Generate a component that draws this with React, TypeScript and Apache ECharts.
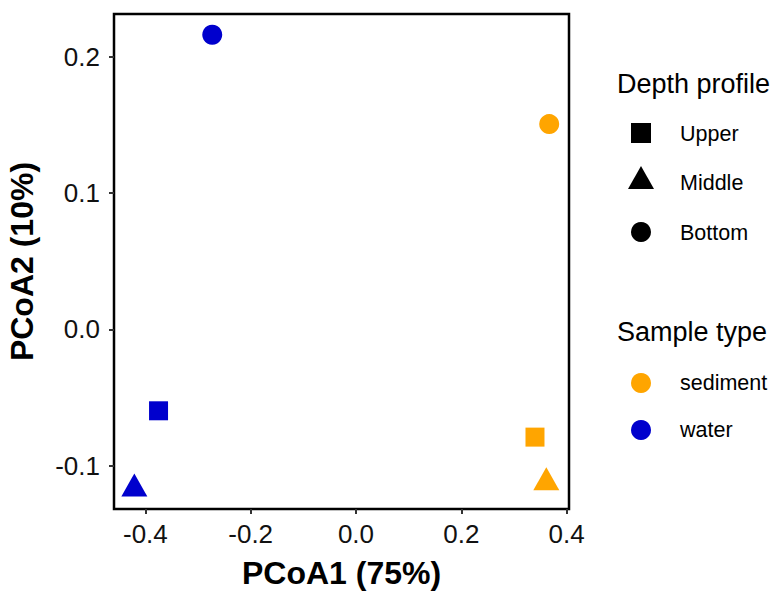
import React, { useEffect, useRef } from "react";
import * as echarts from "echarts";

const sampleTypes = ["water", "water", "water", "sediment", "sediment", "sediment"];
const depths = ["Upper", "Middle", "Bottom", "Upper", "Middle", "Bottom"];
const pcoa1 = [-0.375, -0.421, -0.273, 0.34, 0.3615, 0.367];
const pcoa2 = [-0.0597, -0.1141, 0.216, -0.079, -0.1096, 0.1505];

const xTicks = [-0.4, -0.2, 0.0, 0.2, 0.4];
const yTicks = [-0.1, 0.0, 0.1, 0.2];

const depthLevels = ["Upper", "Middle", "Bottom"];
const typeLevels = ["sediment", "water"];
const typeColors: Record<string, string> = { sediment: "#FFA500", water: "#0000CD" };
const depthSymbols: Record<string, string> = { Upper: "rect", Middle: "triangle", Bottom: "circle" };
const depthSizes: Record<string, any> = { Upper: 19, Middle: [26, 23], Bottom: 20 };

const FONT = "'Liberation Sans', Arial, sans-serif";

export default function App() {
  const ref = useRef<HTMLDivElement>(null);
  useEffect(() => {
    if (!ref.current) return;
    const chart = echarts.init(ref.current, null, { renderer: "svg" });

    const series = typeLevels.map((t) => ({
      name: t,
      type: "scatter",
      data: pcoa1
        .map((x, i) => ({ i, x }))
        .filter((d) => sampleTypes[d.i] === t)
        .map((d) => ({
          value: [d.x, pcoa2[d.i]],
          symbol: depthSymbols[depths[d.i]],
          symbolSize: depthSizes[depths[d.i]],
        })),
      itemStyle: { color: typeColors[t], opacity: 1 },
    }));

    const legendX = 641;
    const textX = 680;
    const graphics: any[] = [
      { type: "text", x: 617, y: 84, style: { text: "Depth profile", font: `27px ${FONT}`, fill: "#000", verticalAlign: "middle" } },
      { type: "text", x: 617, y: 332, style: { text: "Sample type", font: `27px ${FONT}`, fill: "#000", verticalAlign: "middle" } },
    ];
    const depthY = [133, 178, 232];
    depthLevels.forEach((d, k) => {
      const cy = depthY[k];
      if (d === "Upper") {
        graphics.push({ type: "rect", shape: { x: legendX - 10, y: cy - 10, width: 20, height: 20 }, style: { fill: "#000" } });
      } else if (d === "Middle") {
        graphics.push({ type: "polygon", shape: { points: [[legendX, cy - 12], [legendX - 13, cy + 11], [legendX + 13, cy + 11]] }, style: { fill: "#000" } });
      } else {
        graphics.push({ type: "circle", shape: { cx: legendX, cy, r: 10 }, style: { fill: "#000" } });
      }
      graphics.push({ type: "text", x: textX, y: cy + (d === "Middle" ? 5 : 1), style: { text: d, font: `21.5px ${FONT}`, fill: "#000", verticalAlign: "middle" } });
    });
    const typeY = [383, 430];
    typeLevels.forEach((t, k) => {
      const cy = typeY[k];
      graphics.push({ type: "circle", shape: { cx: legendX, cy, r: 10 }, style: { fill: typeColors[t] } });
      graphics.push({ type: "text", x: textX, y: cy, style: { text: t, font: `21.5px ${FONT}`, fill: "#000", verticalAlign: "middle" } });
    });

    chart.setOption({
      animation: false,
      backgroundColor: "#fff",
      grid: {
        left: 114, right: 210, top: 14, bottom: 82,
        outerBoundsMode: "none", containLabel: false,
        show: true, borderColor: "#000", borderWidth: 2.5, backgroundColor: "transparent",
      },
      xAxis: {
        type: "value",
        min: -0.4596,
        max: 0.4046,
        name: "PCoA1 (75%)",
        nameLocation: "middle",
        nameGap: 48,
        nameTextStyle: { fontFamily: FONT, fontWeight: "bold", fontSize: 32, color: "#000" },
        axisLine: { show: false, onZero: false },
        splitLine: { show: false },
        axisTick: { show: true, length: 5, customValues: xTicks, lineStyle: { color: "#333", width: 2 } },
        axisLabel: { customValues: xTicks, margin: 12, fontFamily: FONT, fontSize: 26, color: "#111", formatter: (v: number) => v.toFixed(1) },
      },
      yAxis: {
        type: "value",
        min: -0.1317,
        max: 0.2312,
        name: "PCoA2 (10%)",
        nameLocation: "middle",
        nameGap: 76,
        nameRotate: 90,
        nameTextStyle: { fontFamily: FONT, fontWeight: "bold", fontSize: 32, color: "#000" },
        axisLine: { show: false, onZero: false },
        splitLine: { show: false },
        axisTick: { show: true, length: 5, customValues: yTicks, lineStyle: { color: "#333", width: 2 } },
        axisLabel: { customValues: yTicks, margin: 14, fontFamily: FONT, fontSize: 26, color: "#111", formatter: (v: number) => v.toFixed(1) },
      },
      series,
      graphic: graphics,
    });
    return () => chart.dispose();
  }, []);
  return <div ref={ref} style={{ width: 779, height: 591, position: "absolute", left: 0, top: 0 }} />;
}
